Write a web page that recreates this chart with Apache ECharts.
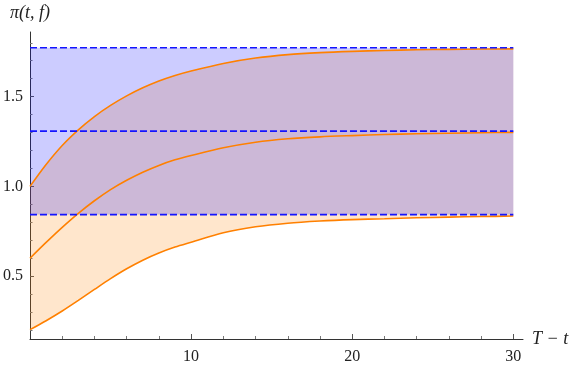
<!DOCTYPE html>
<html>
<head>
<meta charset="utf-8">
<script src="https://cdn.jsdelivr.net/npm/echarts@6/dist/echarts.min.js"></script>
<style>
  html, body { margin: 0; padding: 0; background: #fff; }
  #chart { width: 581px; height: 371px; }
</style>
</head>
<body>
<div id="chart"></div>
<script>
// T - t sample positions
var xs = [0, 1, 2, 3, 4, 5, 6, 7, 8, 9, 10, 12, 14, 16, 18, 20, 22, 24, 26, 28, 30];
// the three pi(t, f) curves
var upper  = [1.000, 1.122, 1.228, 1.315, 1.389, 1.451, 1.504, 1.549, 1.587, 1.618, 1.643, 1.685, 1.715, 1.734, 1.745, 1.752, 1.757, 1.761, 1.763, 1.765, 1.766];
var middle = [0.600, 0.688, 0.772, 0.850, 0.920, 0.982, 1.034, 1.079, 1.117, 1.148, 1.172, 1.215, 1.246, 1.265, 1.276, 1.283, 1.289, 1.293, 1.296, 1.299, 1.301];
var lower  = [0.202, 0.252, 0.306, 0.365, 0.426, 0.486, 0.541, 0.589, 0.629, 0.662, 0.689, 0.742, 0.775, 0.795, 0.807, 0.815, 0.820, 0.825, 0.829, 0.832, 0.835];
// dashed limit levels
var levels = [0.843, 1.308, 1.772];
var levelX = [0, 30];
// tick labels
var xLabels = [10, 20, 30];
var xMinor = [2, 4, 6, 8, 12, 14, 16, 18, 22, 24, 26, 28];
var yLabels = [0.5, 1.0, 1.5];
var yMinor = [0.2, 0.3, 0.4, 0.6, 0.7, 0.8, 0.9, 1.1, 1.2, 1.3, 1.4, 1.6, 1.7, 1.8];

var serif = '"Liberation Serif", "DejaVu Serif", serif';
var axisColor = '#333';

function pairs(x, y) {
  return x.map(function (v, i) { return [v, y[i]]; });
}

var chart = echarts.init(document.getElementById('chart'));

var series = [
  // orange filling between the lower and the upper curve
  {
    type: 'custom', silent: true, data: pairs(xs, upper),
    renderItem: function (params, api) {
      if (params.dataIndex !== 0) return;
      var pts = [];
      for (var i = 0; i < xs.length; i++) pts.push(api.coord([xs[i], upper[i]]));
      for (var j = xs.length - 1; j >= 0; j--) pts.push(api.coord([xs[j], lower[j]]));
      return { type: 'polygon', shape: { points: pts }, style: { fill: 'rgba(255,128,0,0.2)' } };
    }
  },
  // blue band between the outer dashed levels, drawn over the orange
  {
    type: 'custom', silent: true, data: pairs(levelX, [levels[2], levels[0]]),
    renderItem: function (params, api) {
      if (params.dataIndex !== 0) return;
      var a = api.coord([levelX[0], levels[2]]);
      var b = api.coord([levelX[1], levels[0]]);
      return { type: 'rect', shape: { x: a[0], y: a[1], width: b[0] - a[0], height: b[1] - a[1] }, style: { fill: 'rgba(0,0,255,0.2)' } };
    }
  }
];

[upper, middle, lower].forEach(function (c) {
  series.push({
    type: 'line', symbol: 'none', silent: true, smooth: 0.3,
    data: pairs(xs, c), lineStyle: { color: '#ff8000', width: 1.6 }
  });
});

levels.forEach(function (lv) {
  series.push({
    type: 'line', symbol: 'none', silent: true,
    data: pairs(levelX, [lv, lv]),
    lineStyle: { color: '#1414ff', width: 1.6, type: [7, 3] }
  });
});

var option = {
  animation: false,
  grid: { left: 29, right: 58, top: 32, bottom: 32, containLabel: false },
  xAxis: [
    {
      type: 'value', min: 0, max: 30.6, position: 'bottom',
      axisLine: { show: true, onZero: false, lineStyle: { color: axisColor, width: 1 } },
      axisTick: { show: true, inside: true, length: 5, customValues: xLabels, lineStyle: { color: '#555' } },
      axisLabel: { customValues: xLabels, margin: 10, color: '#222', fontFamily: serif, fontSize: 16 },
      splitLine: { show: false },
      name: 'T − t', nameLocation: 'end', nameGap: 9,
      nameTextStyle: { fontFamily: serif, fontStyle: 'italic', fontSize: 18, color: '#222', verticalAlign: 'middle' }
    },
    {
      type: 'value', min: 0, max: 30.6, position: 'bottom',
      axisLine: { show: false },
      axisTick: { show: true, inside: true, length: 3, customValues: xMinor, lineStyle: { color: '#777' } },
      axisLabel: { show: false },
      splitLine: { show: false }
    }
  ],
  yAxis: [
    {
      type: 'value', min: 0.15, max: 1.86, position: 'left',
      axisLine: { show: true, onZero: false, lineStyle: { color: axisColor, width: 1 } },
      axisTick: { show: true, inside: true, length: 4, customValues: yLabels, lineStyle: { color: '#555' } },
      axisLabel: {
        customValues: yLabels, margin: 7, color: '#222', fontFamily: serif, fontSize: 16,
        formatter: function (v) { return v.toFixed(1); }
      },
      splitLine: { show: false },
      name: 'π(t, f)', nameLocation: 'end', nameGap: 10,
      nameTextStyle: { fontFamily: serif, fontStyle: 'italic', fontSize: 18, color: '#222' }
    },
    {
      type: 'value', min: 0.15, max: 1.86, position: 'left',
      axisLine: { show: false },
      axisTick: { show: true, inside: true, length: 2.5, customValues: yMinor, lineStyle: { color: '#777' } },
      axisLabel: { show: false },
      splitLine: { show: false }
    }
  ],
  series: series
};

chart.setOption(option);
</script>
</body>
</html>
